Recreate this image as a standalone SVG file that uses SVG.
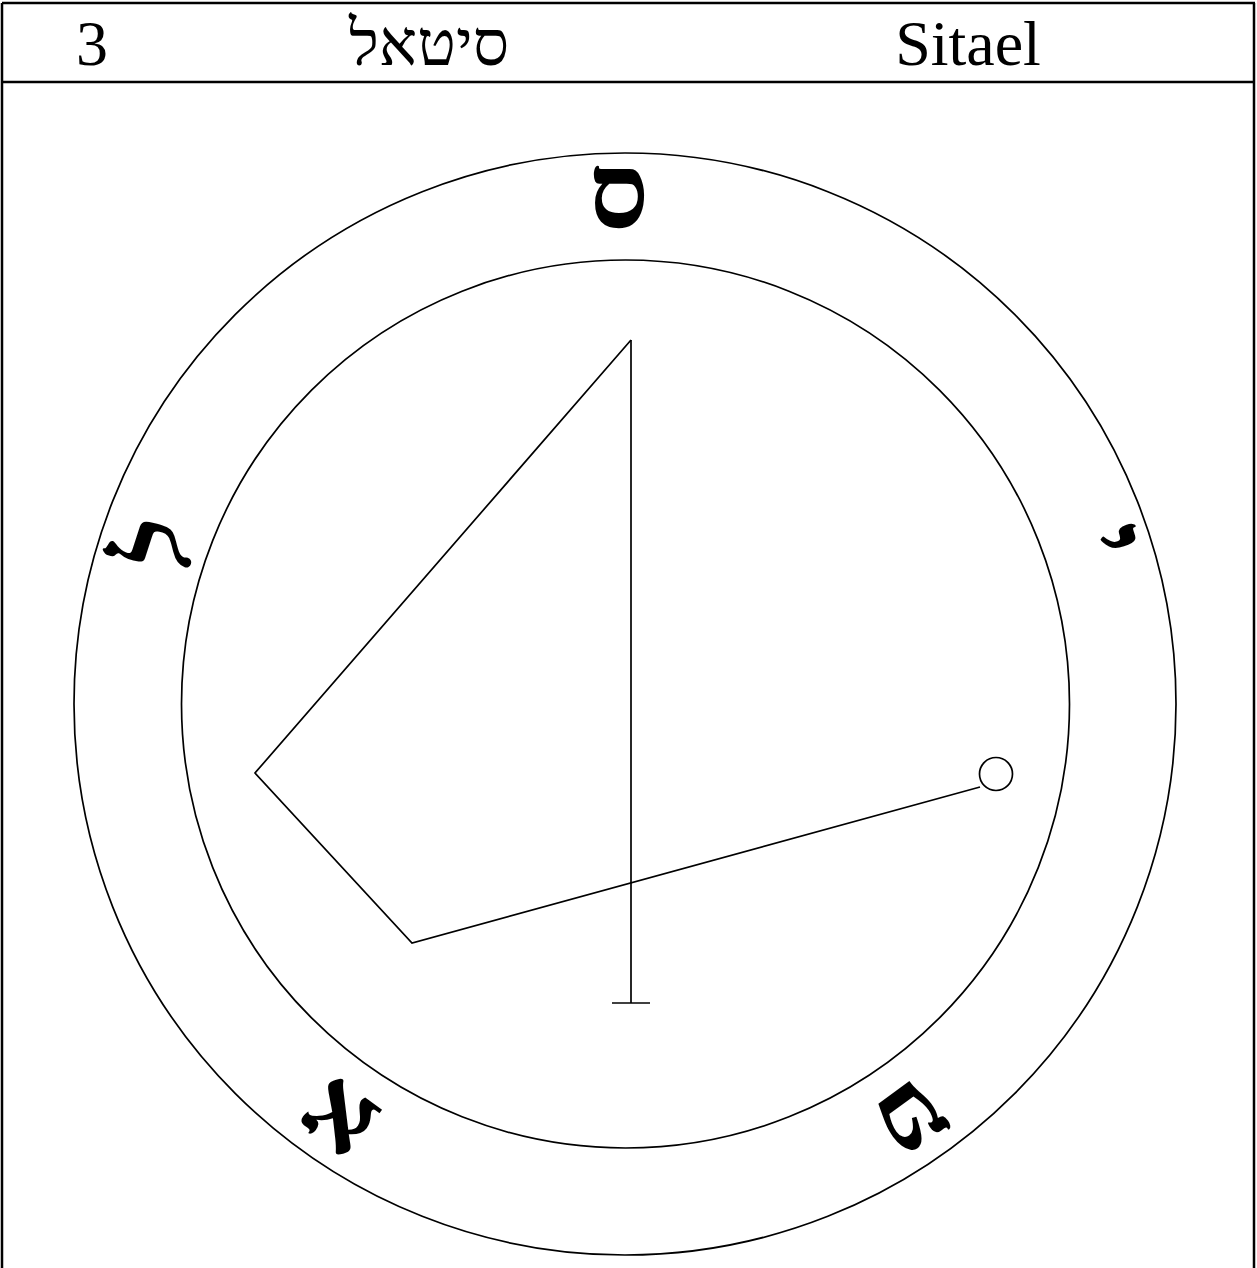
<svg xmlns="http://www.w3.org/2000/svg" width="1257" height="1268" viewBox="0 0 1257 1268">
<style>
.frame{fill:none;stroke:#000;stroke-width:2.5}
.ln{fill:none;stroke:#000;stroke-width:1.7}
.hdr{font-family:"Liberation Serif","Times New Roman",serif;font-size:64px;fill:#000}
.let{font-family:"Liberation Serif","DejaVu Sans",serif;font-size:106px;font-weight:bold;fill:#000;text-anchor:middle}
</style>
<rect fill="#fff" x="0" y="0" width="1257" height="1268"/>
<g id="frame">
<line class="frame" x1="2" y1="3" x2="1255" y2="3"/>
<line class="frame" x1="2" y1="3" x2="2" y2="1268"/>
<line class="frame" x1="1254" y1="3" x2="1254" y2="1268"/>
<line class="frame" x1="2" y1="82" x2="1255" y2="82"/>
</g>
<g id="header">
<text class="hdr" x="92" y="65" text-anchor="middle">3</text>
<text class="hdr" x="429" y="65" text-anchor="middle">סיטאל</text>
<text class="hdr" x="968" y="65" text-anchor="middle">Sitael</text>
</g>
<g id="circles">
<circle class="ln" cx="625" cy="704" r="551"/>
<circle class="ln" cx="625.5" cy="704" r="444"/>
</g>
<g id="letters">
<g transform="translate(625,704) rotate(0)"><text class="let" x="-6" y="-476">ס</text></g>
<g transform="translate(626,699) rotate(72)"><text class="let" x="0" y="-476">י</text></g>
<g transform="translate(615,709) rotate(144)"><text class="let" x="0" y="-474">ט</text></g>
<g transform="translate(637,709) rotate(216)"><text class="let" x="0" y="-474">א</text></g>
<g transform="translate(643,702) rotate(288)"><text class="let" x="0" y="-474">ל</text></g>
</g>
<g id="connectors">
<polyline class="ln" points="631,340 255,773 412,943 980,787"/>
<line class="ln" x1="631" y1="340" x2="631" y2="1003"/>
<line class="ln" x1="612" y1="1003" x2="650" y2="1003"/>
<circle class="ln" cx="996" cy="774" r="16.5"/>
</g>
</svg>
